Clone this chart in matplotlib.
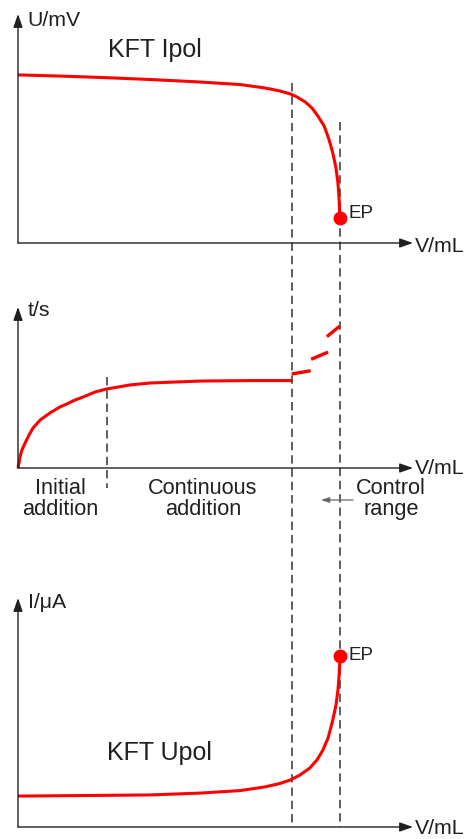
import numpy as np
import matplotlib.pyplot as plt
from matplotlib.transforms import blended_transform_factory

plt.rcParams['font.family'] = ['Liberation Sans', 'DejaVu Sans']

INK = '#231f20'
RED = '#ff0000'

# --- data (arbitrary schematic units, x: 0..100 along V/mL, y: 0..100 per panel) ---
# KFT Ipol: voltage vs volume
ipol_x = [0, 10.6, 20.8, 33.4, 46.1, 56.2, 62.5, 66.3, 68.9, 70.6, 72.7, 74.4,
          75.9, 77.5, 78.7, 79.7, 80.5, 81.0, 81.3, 81.5]
ipol_y = [73.4, 72.9, 72.3, 71.4, 70.3, 69.2, 67.7, 66.4, 65.1, 63.8, 61.6, 59.0,
          55.5, 51.1, 45.4, 39.3, 32.8, 26.2, 18.8, 10.9]

# time vs volume
time_x = [0, 0.3, 0.5, 1.0, 1.8, 2.8, 3.8, 5.6, 8.1, 10.6, 12.4, 14.4, 16.5,
          19.5, 22.5, 28.4, 33.4, 46.1, 58.7, 69.4]
time_y = [0, 3.7, 6.8, 11.2, 15.5, 20.5, 24.8, 29.8, 34.2, 37.9, 39.8, 42.2,
          44.1, 47.2, 49.1, 51.6, 52.8, 54.0, 54.3, 54.3]
# control range steps (dashed segments)
ctrl_x = [[69.3, 74.1], [74.2, 78.5], [78.2, 81.5]]
ctrl_y = [[58.4, 60.4], [67.5, 72.0], [81.6, 88.2]]

# KFT Upol: current vs volume
upol_x = [0, 20.8, 33.4, 46.1, 56.2, 62.5, 66.3, 68.9, 71.4, 73.9, 75.7, 77.2,
          78.5, 79.7, 80.5, 81.0, 81.3, 81.5]
upol_y = [13.5, 13.8, 14.0, 14.8, 15.9, 17.5, 19.0, 20.5, 22.7, 25.8, 29.3, 33.6,
          38.9, 46.7, 53.3, 59.8, 66.4, 74.7]

ep_x = 81.5
start_cont = 69.4
init_end = 22.5

W, H = 469, 839
fig = plt.figure(figsize=(W / 100, H / 100), dpi=100)

# overlay in pixel coordinates for text and guide lines
ov = fig.add_axes([0, 0, 1, 1], zorder=0)
ov.set_xlim(0, W)
ov.set_ylim(H, 0)
ov.axis('off')


def panel(bottom_px, top_px):
    ax = fig.add_axes([18 / W, (H - bottom_px) / H, 395 / W, (bottom_px - top_px) / H],
                      zorder=2)
    ax.set_xlim(0, 100)
    ax.set_ylim(0, 100)
    ax.patch.set_alpha(0)
    for s in ax.spines.values():
        s.set_visible(False)
    ax.set_xticks([])
    ax.set_yticks([])
    arr = dict(arrowstyle='-|>,head_length=0.8,head_width=0.28', color=INK,
               lw=1.0, shrinkA=0, shrinkB=0, mutation_scale=10)
    ax.annotate('', xy=(1, 0), xytext=(0, 0), xycoords='axes fraction', arrowprops=arr)
    ax.annotate('', xy=(0, 1), xytext=(0, 0), xycoords='axes fraction', arrowprops=arr)
    return ax


ax1 = panel(243, 14)
ax2 = panel(468, 307)
ax3 = panel(827, 598)

# curves
ax1.plot(ipol_x, ipol_y, color=RED, lw=2.2, solid_capstyle='butt', clip_on=False)
ax1.plot([ipol_x[-1]], [ipol_y[-1]], 'o', color=RED, ms=9, clip_on=False)

ax2.plot(time_x, time_y, color=RED, lw=2.2, solid_capstyle='butt', clip_on=False)
for sx, sy in zip(ctrl_x, ctrl_y):
    ax2.plot(sx, sy, color=RED, lw=2.4, solid_capstyle='butt', clip_on=False)

ax3.plot(upol_x, upol_y, color=RED, lw=2.2, solid_capstyle='butt', clip_on=False)
ax3.plot([upol_x[-1]], [upol_y[-1]], 'o', color=RED, ms=9, clip_on=False)

# dashed guide lines (x in data units, y in pixels)
tr = blended_transform_factory(ax1.transData, ov.transData)
dash = dict(color='#333333', lw=1.1, linestyle=(0, (5.5, 3.2)), transform=tr, zorder=3)
ov.plot([start_cont, start_cont], [83, 827], **dash)
ov.plot([ep_x, ep_x], [122, 827], **dash)
ov.plot([init_end, init_end], [377, 488], **dash)

# texts
txt = dict(color=INK, transform=ov.transData)
ov.text(27, 20, 'U/mV', fontsize=15.3, va='center', ha='left', **txt)
ov.text(28, 311, 't/s', fontsize=15.3, va='center', ha='left', **txt)
ov.text(28, 602, 'I/μA', fontsize=15.3, va='center', ha='left', **txt)
for yy in (246, 468, 828):
    ov.text(415, yy, 'V/mL', fontsize=15.3, va='center', ha='left', **txt)

ov.text(155, 50, 'KFT Ipol', fontsize=18, va='center', ha='center', **txt)
ov.text(107, 753, 'KFT Upol', fontsize=18, va='center', ha='left', **txt)
ov.text(348, 214, 'EP', fontsize=13.5, va='center', ha='left', **txt)
ov.text(348, 655, 'EP', fontsize=13.5, va='center', ha='left', **txt)

body = dict(fontsize=15.7, va='center', ha='center', linespacing=0.95)
ov.text(60, 499, 'Initial\naddition', **body, **txt)
ov.text(203, 499, 'Continuous\naddition', **body, **txt)
ov.text(391, 499, 'Control\nrange', **body, **txt)
ov.annotate('', xy=(321, 500), xytext=(353, 500), xycoords='data',
            arrowprops=dict(arrowstyle='-|>,head_length=0.6,head_width=0.2',
                            color='#666666', lw=0.9, shrinkA=0, shrinkB=0,
                            mutation_scale=8))

fig.savefig('out.png', dpi=100)
